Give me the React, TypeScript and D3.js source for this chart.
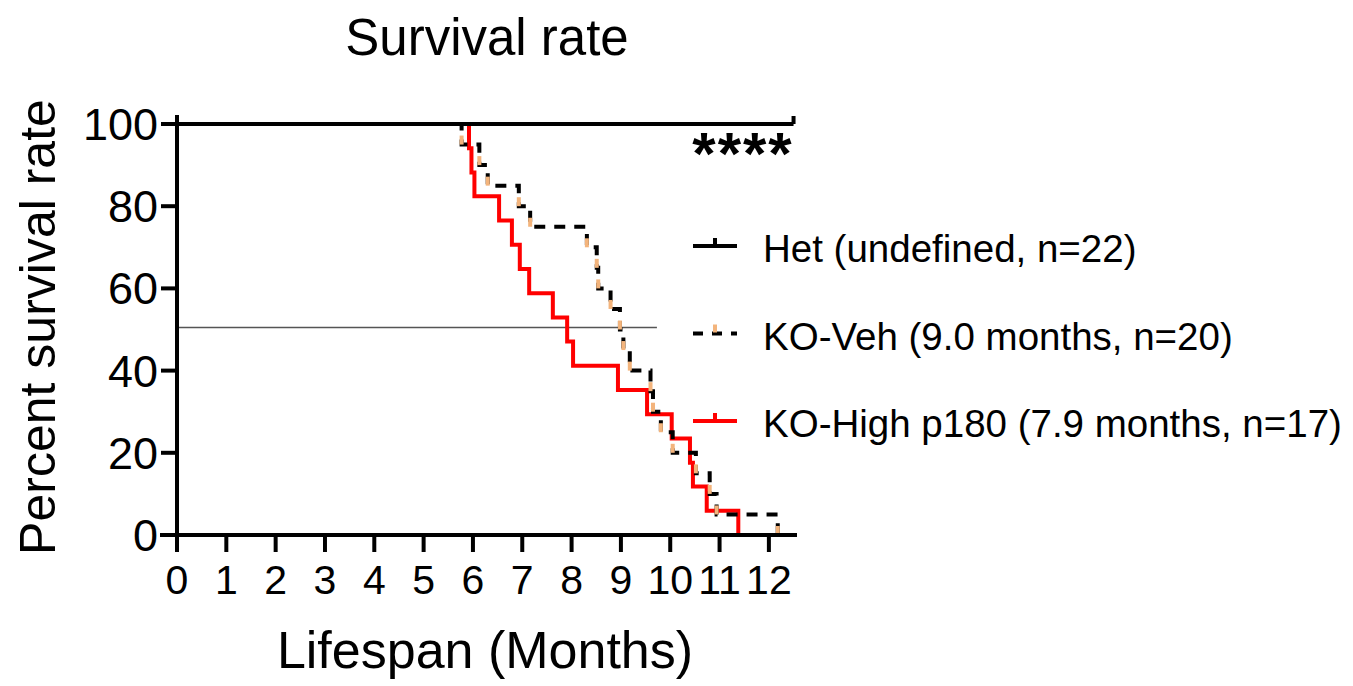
import React from 'react';
import * as d3 from 'd3';

// Kaplan-Meier steps (months, percent survival after the drop)
const vehTimes = [5.77, 6.13, 6.3, 6.93, 7.16, 8.31, 8.51, 8.54, 8.79, 8.98, 9.05, 9.18, 9.6, 9.65, 9.81, 10.05, 10.52, 10.8, 10.94, 12.18];
const vehSurv = [95, 90, 85, 80, 75, 70, 65, 60, 55, 50, 45, 40, 35, 30, 25, 20, 15, 10, 5, 0];

const highTimes = [5.92, 5.97, 6.03, 6.53, 6.79, 6.95, 7.14, 7.62, 7.91, 8.03, 8.94, 9.53, 10.03, 10.4, 10.46, 10.74, 11.38];
const highSurv = [94.1, 88.2, 82.4, 76.5, 70.6, 64.7, 58.8, 52.9, 47.1, 41.2, 35.3, 29.4, 23.5, 17.6, 11.8, 5.9, 0];

const hetEnd = 12.5; // censored at end, survival stays 100
const medianLine = { y: 50.5, xEnd: 9.73 };

const xTicks = [0, 1, 2, 3, 4, 5, 6, 7, 8, 9, 10, 11, 12];
const yTicks = [0, 20, 40, 60, 80, 100];

const legendItems = [
  { label: 'Het (undefined, n=22)', key: 'het' },
  { label: 'KO-Veh (9.0 months, n=20)', key: 'veh' },
  { label: 'KO-High p180 (7.9 months, n=17)', key: 'high' },
];

const FONT = '"Liberation Sans", Arial, sans-serif';
const RED = '#ff0000';
const ORANGE = '#f3b47c';

const x = d3.scaleLinear().domain([0, 12.57]).range([177, 797]);
const y = d3.scaleLinear().domain([0, 100]).range([535, 124]);

function stepPoints(times: number[], surv: number[], end?: number) {
  const pts: [number, number][] = [[0, 100]];
  let prev = 100;
  times.forEach((t, i) => {
    pts.push([t, prev]);
    pts.push([t, surv[i]]);
    prev = surv[i];
  });
  if (end !== undefined) pts.push([end, prev]);
  return pts;
}

const line = d3
  .line<[number, number]>()
  .x((d) => x(d[0]))
  .y((d) => y(d[1]));

export default function App() {
  const vehPts = stepPoints(vehTimes, vehSurv);
  const highPts = stepPoints(highTimes, highSurv);
  const hetPts: [number, number][] = [[0, 100], [hetEnd, 100]];

  return (
    <svg width={1353} height={686} style={{ position: 'absolute', left: 0, top: 0, background: '#fff' }} fontFamily={FONT}>
      {/* title */}
      <text x={487} y={55} fontSize={51} textAnchor="middle">Survival rate</text>

      {/* median line */}
      <line x1={x(0)} x2={x(medianLine.xEnd)} y1={y(medianLine.y)} y2={y(medianLine.y)} stroke="#555" strokeWidth={1.5} />

      {/* curves */}
      <path d={line(highPts) || ''} fill="none" stroke={RED} strokeWidth={4} />
      <path d={line(vehPts) || ''} fill="none" stroke="#000" strokeWidth={4} strokeDasharray="11 9" />
      {vehTimes.map((t, i) => (
        <line key={i} x1={x(t)} x2={x(t)} y1={y(vehSurv[i]) - 9} y2={y(vehSurv[i])} stroke={ORANGE} strokeWidth={4} />
      ))}
      <path d={line(hetPts) || ''} fill="none" stroke="#000" strokeWidth={4} />
      <line x1={x(hetEnd)} x2={x(hetEnd)} y1={y(100)} y2={y(100) - 8} stroke="#000" strokeWidth={4} />

      {/* axes */}
      <line x1={x(0)} x2={x(0)} y1={115} y2={552} stroke="#000" strokeWidth={4} />
      <line x1={160} x2={797} y1={y(0)} y2={y(0)} stroke="#000" strokeWidth={4} />
      {yTicks.map((t) => (
        <g key={t}>
          <line x1={161} x2={x(0)} y1={y(t)} y2={y(t)} stroke="#000" strokeWidth={4} />
          <text x={158} y={y(t) + 16} fontSize={45} textAnchor="end">{t}</text>
        </g>
      ))}
      {xTicks.map((t) => (
        <g key={t}>
          <line x1={x(t)} x2={x(t)} y1={y(0)} y2={552} stroke="#000" strokeWidth={4} />
          <text x={x(t)} y={594} fontSize={41} textAnchor="middle">{t}</text>
        </g>
      ))}
      <text transform={`translate(55,327) rotate(-90)`} fontSize={50} textAnchor="middle">Percent survival rate</text>
      <text x={485} y={668} fontSize={52} textAnchor="middle">Lifespan (Months)</text>

      {/* significance */}
      <text x={743} y={174} fontSize={60} fontWeight="bold" letterSpacing={2} textAnchor="middle">****</text>

      {/* legend */}
      {legendItems.map((item, i) => {
        const ly = 246 + i * 87.5;
        return (
          <g key={item.key}>
            {item.key === 'het' && (
              <g>
                <line x1={693} x2={737} y1={ly} y2={ly} stroke="#000" strokeWidth={4} />
                <line x1={715} x2={715} y1={ly} y2={ly - 8} stroke="#000" strokeWidth={4} />
              </g>
            )}
            {item.key === 'veh' && (
              <g>
                <line x1={693} x2={737} y1={ly} y2={ly} stroke="#000" strokeWidth={4} strokeDasharray="10 9" />
                <line x1={715} x2={715} y1={ly - 1} y2={ly - 9} stroke={ORANGE} strokeWidth={4} />
              </g>
            )}
            {item.key === 'high' && (
              <g>
                <line x1={693} x2={737} y1={ly} y2={ly} stroke={RED} strokeWidth={4} />
                <line x1={715} x2={715} y1={ly} y2={ly - 8} stroke={RED} strokeWidth={4} />
              </g>
            )}
            <text x={763} y={ly + 16} fontSize={38.5}>{item.label}</text>
          </g>
        );
      })}
    </svg>
  );
}
